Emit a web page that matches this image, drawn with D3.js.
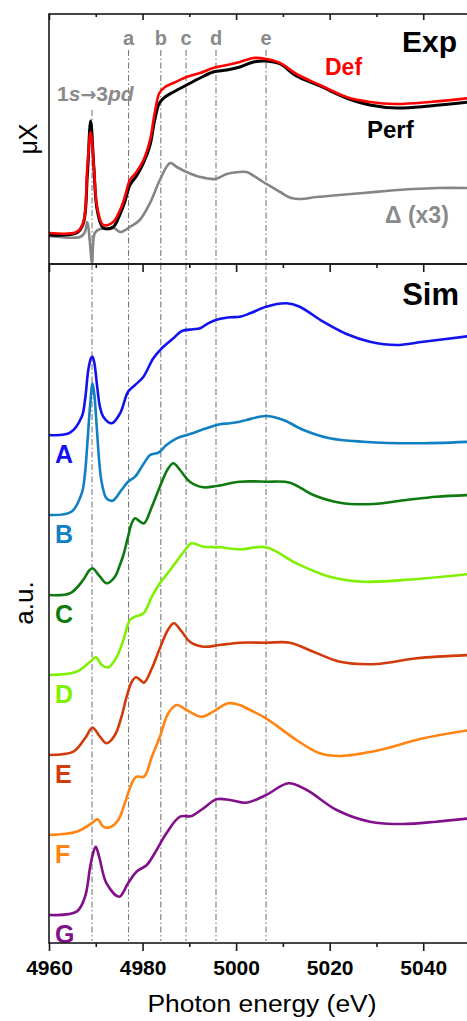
<!DOCTYPE html>
<html><head><meta charset="utf-8">
<script src="https://cdn.jsdelivr.net/npm/d3@7"></script>
<style>body{margin:0;background:#fff}</style>
</head><body><svg id="c" width="467" height="1021"></svg>
<script>
// ---------- data ----------
const energyTicks = [4960, 4980, 5000, 5020, 5040];
const minorTicks = [4970, 4990, 5010, 5030, 5050];
const featureLabels = ["a", "b", "c", "d", "e"];
const featureEnergies = [4977.0, 4983.9, 4989.3, 4995.7, 5006.4];
const preEdgeEnergy = 4969.2;

// experimental (normalised, pre-edge = 0)
const expPerf = [[4960,-0.01],[4965.9,0.01],[4967.3,0.10],[4968.2,0.59],[4968.9,1.13],[4969.6,0.66],[4970.3,0.24],[4971.6,0.06],[4973.7,0.07],[4975.2,0.20],[4976.2,0.32],[4977.3,0.49],[4978.7,0.58],[4980.2,0.71],[4981.6,0.89],[4982.6,1.14],[4983.6,1.31],[4984.8,1.37],[4986.6,1.42],[4989.4,1.49],[4992.3,1.56],[4995.1,1.62],[4998,1.64],[5000.8,1.67],[5003.7,1.72],[5006.4,1.73],[5009.4,1.70],[5012.9,1.58],[5017.9,1.48],[5023.6,1.36],[5028.6,1.29],[5034.3,1.26],[5041.4,1.28],[5050,1.32]];
const expDef = [[4960,0.01],[4965.9,0.02],[4967.3,0.11],[4968.2,0.67],[4968.9,1.02],[4969.6,0.67],[4970.3,0.27],[4971.6,0.09],[4973.7,0.12],[4975.2,0.24],[4976.2,0.37],[4977.3,0.54],[4978.7,0.62],[4980.2,0.74],[4981.6,0.94],[4982.6,1.21],[4983.6,1.41],[4984.8,1.47],[4986.6,1.51],[4989.4,1.57],[4992.3,1.61],[4995.1,1.66],[4998,1.69],[5000.8,1.72],[5003.7,1.76],[5006.4,1.75],[5009.4,1.71],[5012.9,1.60],[5017.9,1.49],[5023.6,1.37],[5028.6,1.32],[5034.3,1.30],[5041.4,1.32],[5050,1.36]];
const expDelta = [[4960,-0.02],[4966.6,-0.03],[4967.6,0.01],[4968.2,0.12],[4968.7,-0.06],[4969.2,-0.29],[4969.8,0.01],[4970.9,0.05],[4973,0.05],[4973.9,0.06],[4975.2,0.02],[4977.3,0.07],[4979.4,0.14],[4981.6,0.31],[4983.7,0.54],[4985.9,0.71],[4987.3,0.67],[4989.4,0.62],[4992.3,0.57],[4995.5,0.55],[4998,0.60],[5000.8,0.62],[5002.2,0.62],[5005.8,0.52],[5009.4,0.42],[5011.8,0.36],[5013.7,0.35],[5017.2,0.37],[5022,0.39],[5027.2,0.41],[5032,0.43],[5037.9,0.45],[5043,0.46],[5050,0.46]];

// simulations (each relative to its own pre-edge), stacked by offsets
const simNames = ["A", "B", "C", "D", "E", "F", "G"];
const simColors = ["#1212ee", "#1180c2", "#0f7a0f", "#7ff000", "#d23a0a", "#ff8412", "#82108a"];
const simOffsets = [5.08, 4.28, 3.48, 2.68, 1.88, 1.08, 0.28];
const simA = [[4960,0],[4964.5,0.023],[4967,0.183],[4967.7,0.35],[4968.4,0.65],[4969.0,0.77],[4969.3,0.783],[4969.7,0.72],[4970.3,0.483],[4970.9,0.28],[4971.6,0.183],[4973.4,0.117],[4975.2,0.217],[4976.9,0.433],[4978.4,0.50],[4980.2,0.583],[4982.3,0.767],[4984.1,0.867],[4986.6,0.967],[4988.4,1.04],[4990.8,1.057],[4992.3,1.067],[4994,1.117],[4996.2,1.157],[4998.7,1.177],[5000.8,1.183],[5003,1.217],[5006.4,1.283],[5010.8,1.317],[5013.6,1.283],[5018.6,1.133],[5023.6,1.01],[5028.6,0.933],[5034.3,0.90],[5040,0.933],[5050,0.99]];
const simB = [[4960,0],[4964.8,0.033],[4967,0.217],[4967.7,0.42],[4968.2,0.717],[4968.8,1.1],[4969.3,1.317],[4969.7,1.2],[4970.2,0.883],[4970.8,0.5],[4971.3,0.317],[4972.3,0.167],[4973.6,0.143],[4975.5,0.25],[4976.9,0.333],[4978.4,0.383],[4980.2,0.51],[4981.6,0.60],[4983.4,0.623],[4985.1,0.70],[4987.3,0.767],[4990.1,0.81],[4993.7,0.867],[4996.5,0.907],[4998.7,0.917],[5000.8,0.933],[5002.2,0.95],[5006.4,0.99],[5010.1,0.95],[5014.4,0.85],[5020,0.767],[5027.2,0.733],[5037.9,0.717],[5050,0.733]];
const simC = [[4960,0],[4964.5,0.017],[4967.3,0.15],[4968.5,0.24],[4969.3,0.267],[4970.9,0.183],[4972.3,0.117],[4974.1,0.183],[4975.0,0.28],[4975.9,0.40],[4976.9,0.583],[4977.7,0.72],[4978.4,0.767],[4979.3,0.74],[4980.3,0.717],[4982,0.883],[4983.7,1.083],[4985.5,1.267],[4986.6,1.317],[4988,1.25],[4990.1,1.133],[4993,1.077],[4995.8,1.09],[5000.8,1.133],[5006.4,1.133],[5011.5,1.123],[5016.5,1.00],[5022.2,0.923],[5029.3,0.91],[5036.4,0.95],[5042.8,0.983],[5050,1.00]];
const simD = [[4960,0],[4965.9,0.033],[4968.8,0.133],[4970,0.177],[4971.3,0.10],[4972.7,0.077],[4974.5,0.183],[4975.9,0.35],[4977.3,0.55],[4978.4,0.583],[4980.2,0.617],[4982,0.783],[4983.7,0.917],[4985.9,1.05],[4988,1.183],[4989.1,1.25],[4990.5,1.317],[4993,1.283],[4996.5,1.277],[5000.8,1.257],[5006.4,1.277],[5012.9,1.117],[5020,0.983],[5027.2,0.933],[5037.9,0.957],[5050,1.01]];
const simE = [[4960,0],[4965.2,0.033],[4967.7,0.167],[4969.3,0.273],[4970.9,0.183],[4972.3,0.117],[4974.1,0.20],[4975.5,0.383],[4976.6,0.583],[4977.7,0.733],[4978.6,0.777],[4979.5,0.75],[4980.3,0.723],[4982,0.867],[4983.7,1.067],[4985.5,1.257],[4986.7,1.317],[4988.4,1.233],[4990.1,1.133],[4993,1.083],[4996.5,1.10],[5000.8,1.123],[5006.4,1.123],[5011.5,1.123],[5016.5,1.033],[5022.2,0.933],[5030,0.91],[5038.6,0.967],[5050,1.00]];
const simF = [[4960,0],[4965.9,0.033],[4969.1,0.117],[4970.4,0.157],[4971.6,0.083],[4973,0.077],[4974.8,0.15],[4976.2,0.317],[4977.7,0.517],[4978.7,0.583],[4980.3,0.583],[4982,0.783],[4983.7,0.983],[4985.5,1.217],[4987.3,1.30],[4989.4,1.25],[4992.6,1.183],[4995.1,1.233],[4998.3,1.317],[5000.8,1.30],[5003,1.25],[5006.4,1.167],[5012.9,0.95],[5017.9,0.817],[5022.2,0.79],[5030.7,0.85],[5040,0.967],[5050,1.05]];
const simG = [[4960,0],[4965.9,0.033],[4967.7,0.183],[4968.8,0.483],[4969.5,0.63],[4970,0.683],[4970.5,0.62],[4970.9,0.55],[4972.3,0.317],[4975,0.183],[4976.9,0.317],[4978.7,0.433],[4980.9,0.50],[4983,0.65],[4985.1,0.817],[4988,0.983],[4990.5,0.99],[4993,1.067],[4995.8,1.157],[4998.7,1.15],[5002.2,1.123],[5006.4,1.20],[5011.2,1.317],[5015.1,1.25],[5021.5,1.05],[5028.6,0.933],[5035.7,0.91],[5042.8,0.933],[5050,0.967]];
const simSeries = [simA, simB, simC, simD, simE, simF, simG];

// ---------- layout ----------
const L = 49, R = 470, T = 14, M = 264, B = 943;
const FONT = "'Liberation Sans', Arial, Helvetica, sans-serif";
const svg = d3.select("#c").style("font-family", FONT);

const x = d3.scaleLinear().domain([4960, 5050]).range([L, R]);
const yTop = d3.scaleLinear().domain([-0.3, 2.2]).range([M, T]);
const yBot = d3.scaleLinear().domain([0, 6.79]).range([B, M]);
const smooth = d3.curveCatmullRom.alpha(0.5);

const defs = svg.append("defs");
defs.append("clipPath").attr("id", "cpTop").append("rect").attr("x", L).attr("y", T).attr("width", R - L).attr("height", M - T);
defs.append("clipPath").attr("id", "cpBot").append("rect").attr("x", L).attr("y", M).attr("width", R - L).attr("height", B - M);

// feature lines
const dash = "6,2.5,1.5,2.5";
const vl = svg.append("g").attr("stroke", "#7a7a7a").attr("stroke-width", 1.1).attr("stroke-dasharray", dash).attr("fill", "none");
featureEnergies.forEach(e => {
  vl.append("line").attr("x1", x(e)).attr("x2", x(e)).attr("y1", 50).attr("y2", M);
  vl.append("line").attr("x1", x(e)).attr("x2", x(e)).attr("y1", M).attr("y2", B - 2);
});
vl.append("line").attr("x1", x(preEdgeEnergy)).attr("x2", x(preEdgeEnergy)).attr("y1", 110).attr("y2", M);
vl.append("line").attr("x1", x(preEdgeEnergy)).attr("x2", x(preEdgeEnergy)).attr("y1", M).attr("y2", B - 2);

// feature labels
svg.append("g").selectAll("text").data(featureLabels).join("text")
  .attr("x", (d, i) => x(featureEnergies[i])).attr("y", 45)
  .attr("text-anchor", "middle").attr("font-size", 20).attr("font-weight", "bold").attr("fill", "#8a8a8a")
  .text(d => d);

// top panel curves
const lineTop = d3.line().x(d => x(d[0])).y(d => yTop(d[1])).curve(smooth);
const gTop = svg.append("g").attr("clip-path", "url(#cpTop)").attr("fill", "none").attr("stroke-linejoin", "round");
gTop.append("path").attr("d", lineTop(expDelta)).attr("stroke", "#858585").attr("stroke-width", 2.6);
gTop.append("path").attr("d", lineTop(expPerf)).attr("stroke", "#000").attr("stroke-width", 3);
gTop.append("path").attr("d", lineTop(expDef)).attr("stroke", "#ff0000").attr("stroke-width", 2.6);

// bottom panel curves
const gBot = svg.append("g").attr("clip-path", "url(#cpBot)").attr("fill", "none").attr("stroke-linejoin", "round");
simSeries.forEach((s, i) => {
  const line = d3.line().x(d => x(d[0])).y(d => yBot(d[1] + simOffsets[i])).curve(smooth);
  gBot.append("path").attr("d", line(s)).attr("stroke", simColors[i]).attr("stroke-width", 2.6);
});

// sim labels
svg.append("g").selectAll("text").data(simNames).join("text")
  .attr("x", 55).attr("y", (d, i) => yBot(simOffsets[i]) + 28)
  .attr("font-size", 25).attr("font-weight", "bold").attr("fill", (d, i) => simColors[i])
  .text(d => d);

// frames
const frame = svg.append("g").attr("stroke", "#1a1a1a").attr("stroke-width", 1.6).attr("fill", "none");
frame.append("rect").attr("x", L).attr("y", T).attr("width", R - L).attr("height", M - T);
frame.append("rect").attr("x", L).attr("y", M).attr("width", R - L).attr("height", B - M);

// ticks
function tickRow(y, axisFn, size, values) {
  const g = svg.append("g").attr("transform", `translate(0,${y})`)
    .call(axisFn(x).tickValues(values).tickSize(size).tickFormat(""));
  g.select(".domain").remove();
  g.selectAll(".tick line").attr("stroke", "#1a1a1a").attr("stroke-width", 1.6);
  return g;
}
tickRow(T, d3.axisTop, -6, energyTicks);
tickRow(T, d3.axisTop, -3, minorTicks);
tickRow(M, d3.axisTop, -8, energyTicks);
tickRow(M, d3.axisTop, -4, minorTicks);
tickRow(B, d3.axisBottom, 4, minorTicks);
const gx = svg.append("g").attr("transform", `translate(0,${B})`)
  .call(d3.axisBottom(x).tickValues(energyTicks).tickSize(8).tickPadding(9).tickFormat(d3.format("d")));
gx.select(".domain").remove();
gx.selectAll(".tick line").attr("stroke", "#1a1a1a").attr("stroke-width", 1.6);
gx.selectAll(".tick text").attr("font-family", FONT).attr("font-size", 21).attr("font-weight", "bold").attr("fill", "#000");

// axis titles
svg.append("text").attr("x", 262).attr("y", 1012).attr("text-anchor", "middle")
  .attr("font-size", 23).attr("textLength", 229).attr("lengthAdjust", "spacingAndGlyphs").text("Photon energy (eV)");
svg.append("text").attr("transform", "translate(37,139) rotate(-90)").attr("text-anchor", "middle")
  .attr("font-size", 25).text("μX");
svg.append("text").attr("transform", "translate(33,603) rotate(-90)").attr("text-anchor", "middle")
  .attr("font-size", 26).text("a.u.");

// panel labels
svg.append("text").attr("x", 457).attr("y", 52).attr("text-anchor", "end").attr("font-size", 30).attr("font-weight", "bold").text("Exp");
svg.append("text").attr("x", 459).attr("y", 305).attr("text-anchor", "end").attr("font-size", 31).attr("font-weight", "bold").text("Sim");
svg.append("text").attr("x", 325).attr("y", 75).attr("font-size", 23).attr("font-weight", "bold").attr("fill", "#ff0000").text("Def");
svg.append("text").attr("x", 367).attr("y", 138).attr("font-size", 24).attr("font-weight", "bold").attr("fill", "#000").text("Perf");
svg.append("text").attr("x", 385).attr("y", 223).attr("font-size", 23).attr("font-weight", "bold").attr("fill", "#8a8a8a").text("Δ (x3)");
const t1 = svg.append("text").attr("x", 57).attr("y", 101).attr("font-size", 21).attr("font-weight", "bold").attr("fill", "#8a8a8a");
t1.append("tspan").text("1");
t1.append("tspan").attr("font-style", "italic").text("s");
t1.append("tspan").attr("font-family", "'DejaVu Sans', sans-serif").attr("font-size", 19).text("→");
t1.append("tspan").text("3");
t1.append("tspan").attr("font-style", "italic").text("pd");
</script></body></html>
